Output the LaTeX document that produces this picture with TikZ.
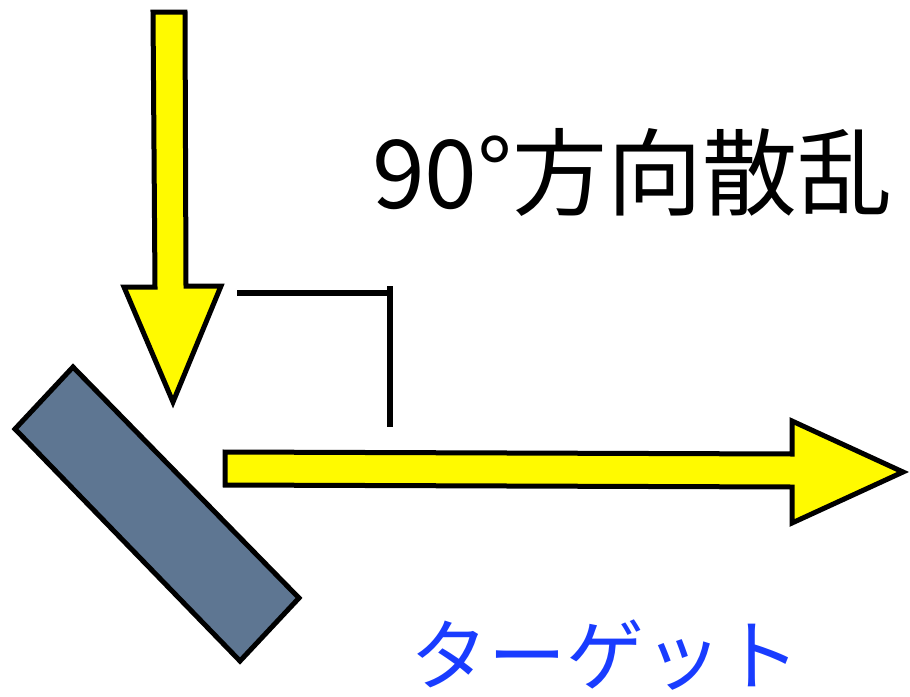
\documentclass[tikz,border=0pt]{standalone}
\usepackage{fontspec}
\newfontfamily\jpfont{Noto Sans CJK JP}
\definecolor{beamyellow}{RGB}{255,250,0}
\definecolor{targetblue}{RGB}{94,118,146}
\definecolor{labelblue}{RGB}{25,60,255}
\begin{document}
\begin{tikzpicture}[x=1pt,y=-1pt,
  beam/.style={fill=beamyellow,draw=black,line width=5pt,line join=miter},
  plate/.style={fill=targetblue,draw=black,line width=5pt,line join=miter},
  marker/.style={draw=black,line width=6pt},
  title/.style={font=\jpfont\fontsize{95}{100}\selectfont,inner sep=0pt,text=black},
  tlabel/.style={font=\jpfont\fontsize{78}{82}\selectfont,inner sep=0pt,text=labelblue}]
\useasboundingbox (0,0) rectangle (910,696);
% incident beam
\draw[beam] (153,12) -- (185,12) -- (186,286) -- (221,286) -- (173,402) -- (124,287) -- (155,287) -- cycle;
% scattered beam
\draw[beam] (225,452) -- (792,454) -- (792,421) -- (903,472) -- (792,523) -- (792,487) -- (225,485) -- cycle;
% target plate
\draw[plate] (73,367) -- (15,429) -- (240,661) -- (299,598) -- cycle;
% right-angle marker
\coordinate (m1) at (237,293);
\coordinate (m2) at (390,293);
\coordinate (m3) at (390,427);
\draw[marker] (m1) -- (m2);
\draw[marker] (390,286) -- (m3);
% labels
\node[title,anchor=base west] (t) at (372,208) {90°方向散乱};
\node[tlabel,anchor=base west] (l) at (410,684) {ターゲット};
\end{tikzpicture}
\end{document}
